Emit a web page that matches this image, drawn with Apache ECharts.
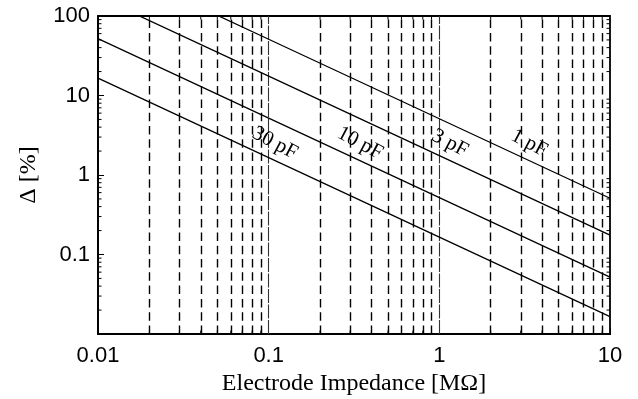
<!DOCTYPE html>
<html><head><meta charset="utf-8">
<script src="https://cdn.jsdelivr.net/npm/echarts@6/dist/echarts.min.js"></script>
<style>html,body{margin:0;padding:0;background:#fff}#c{width:638px;height:399px}</style>
</head><body><div id="c"></div>
<script>
// Electrode impedance (MΩ) sample points
const impedance = [0.01, 0.1, 1, 10];
// Δ [%] for each capacitance
const d1pF  = [510, 51, 5.1, 0.51];
const d3pF  = [175, 17.5, 1.75, 0.175];
const d10pF = [52, 5.2, 0.52, 0.052];
const d30pF = [16.5, 1.65, 0.165, 0.0165];
const seriesNames = ['1 pF', '3 pF', '10 pF', '30 pF'];
const seriesData = [d1pF, d3pF, d10pF, d30pF];
// dashed grid lines (x)
const gridX = [0.02,0.03,0.04,0.05,0.06,0.07,0.08,0.09,0.2,0.3,0.4,0.5,0.6,0.7,0.8,0.9,2,3,4,5,6,7,8,9];
const majorGridX = [0.1, 1];
// minor y ticks
const minorY = [];
[0.01,0.1,1,10].forEach(d=>{for(let m=2;m<=9;m++) minorY.push(+(d*m).toPrecision(3));});
const yTickLabels = ['0.1','1','10','100'];
const xTickLabels = ['0.01','0.1','1','10'];

const chart = echarts.init(document.getElementById('c'), null, {renderer:'canvas'});
const XMIN=0.01, XMAX=10, YMIN=0.01, YMAX=100;

const lineSeries = seriesData.map((d,i)=>({
  type:'line', name:seriesNames[i], data: impedance.map((x,j)=>[x,d[j]]),
  showSymbol:false, symbol:'none', clip:true, silent:true,
  lineStyle:{color:'#000', width:1.3}, z:5
}));

const tickSeries = {
  type:'custom', silent:true, z:6, clip:false,
  data: minorY.map(v=>[v, 0]).concat(gridX.map(v=>[v,1])),
  renderItem:function(params, api){
    const v = api.value(0), kind = api.value(1);
    const L = 3.5, st={stroke:'#000', lineWidth:1};
    if(kind===0){
      const a = api.coord([XMIN, v]), b = api.coord([XMAX, v]);
      return {type:'group', children:[
        {type:'line', shape:{x1:a[0],y1:a[1],x2:a[0]+L,y2:a[1]}, style:st},
        {type:'line', shape:{x1:b[0],y1:b[1],x2:b[0]-L,y2:b[1]}, style:st}
      ]};
    } else {
      const a = api.coord([v, YMIN]), b = api.coord([v, YMAX]);
      return {type:'group', children:[
        {type:'line', shape:{x1:a[0],y1:a[1],x2:a[0],y2:a[1]-L}, style:st},
        {type:'line', shape:{x1:b[0],y1:b[1],x2:b[0],y2:b[1]+L}, style:st}
      ]};
    }
  }
};

const gridLineSeries = {
  type:'line', data:[], silent:true,
  markLine:{silent:true, symbol:['none','none'], label:{show:false}, animation:false,
    data: gridX.map(v=>({xAxis:v, lineStyle:{type:[8.5,4.8], color:'#000', width:1.4}}))
      .concat(majorGridX.map(v=>({xAxis:v, lineStyle:{type:[14,1.5], color:'#333', width:1.1}})))
  }
};

chart.setOption({
  animation:false,
  grid:{left:98, top:16, right:28, bottom:65, containLabel:false, outerBoundsMode:'none',
    show:true, borderColor:'#000', borderWidth:1.8, backgroundColor:'transparent'},
  xAxis:{type:'log', min:XMIN, max:XMAX, logBase:10,
    name:'Electrode Impedance [MΩ]', nameLocation:'middle', nameGap:38,
    nameTextStyle:{fontFamily:'Liberation Serif', fontSize:24, color:'#000'},
    axisLine:{show:true, lineStyle:{color:'#000', width:1.8}},
    axisTick:{show:true, inside:true, length:6, lineStyle:{color:'#000'}},
    axisLabel:{fontFamily:'Liberation Sans', fontSize:22, color:'#000', margin:11,
      formatter:v=>{const s=xTickLabels.find(t=>Math.abs(+t-v)<1e-9*Math.max(1,v)); return s||'';}},
    splitLine:{show:false}, minorTick:{show:false}},
  yAxis:{type:'log', min:YMIN, max:YMAX, logBase:10,
    name:'Δ [%]', nameLocation:'middle', nameGap:57, nameRotate:90,
    nameTextStyle:{fontFamily:'Liberation Serif', fontSize:24, color:'#000'},
    axisLine:{show:true, lineStyle:{color:'#000', width:1.8}},
    axisTick:{show:true, inside:true, length:6, lineStyle:{color:'#000'}},
    axisLabel:{fontFamily:'Liberation Sans', fontSize:22, color:'#000', margin:8,
      formatter:v=>{const s=yTickLabels.find(t=>Math.abs(+t-v)<1e-9*Math.max(1,v)); return s||'';}},
    splitLine:{show:false}, minorTick:{show:false}},
  series:[gridLineSeries, tickSeries].concat(lineSeries)
});

// curve labels placed along each line, via the chart's own coordinate system
const labelLevel = 1.58;
const graphics = seriesData.map((d,i)=>{
  const k = d[2]; // value at 1 MΩ
  const x = k/labelLevel;
  const p = chart.convertToPixel({gridIndex:0}, [x, labelLevel]);
  return {type:'text', x:p[0]+3, y:p[1]-16, rotation:-28*Math.PI/180,
    style:{text:seriesNames[i], fontFamily:'Liberation Serif', fontSize:21, fill:'#000', align:'center', verticalAlign:'middle'}, z:10};
});
chart.setOption({graphic:graphics});
</script></body></html>
